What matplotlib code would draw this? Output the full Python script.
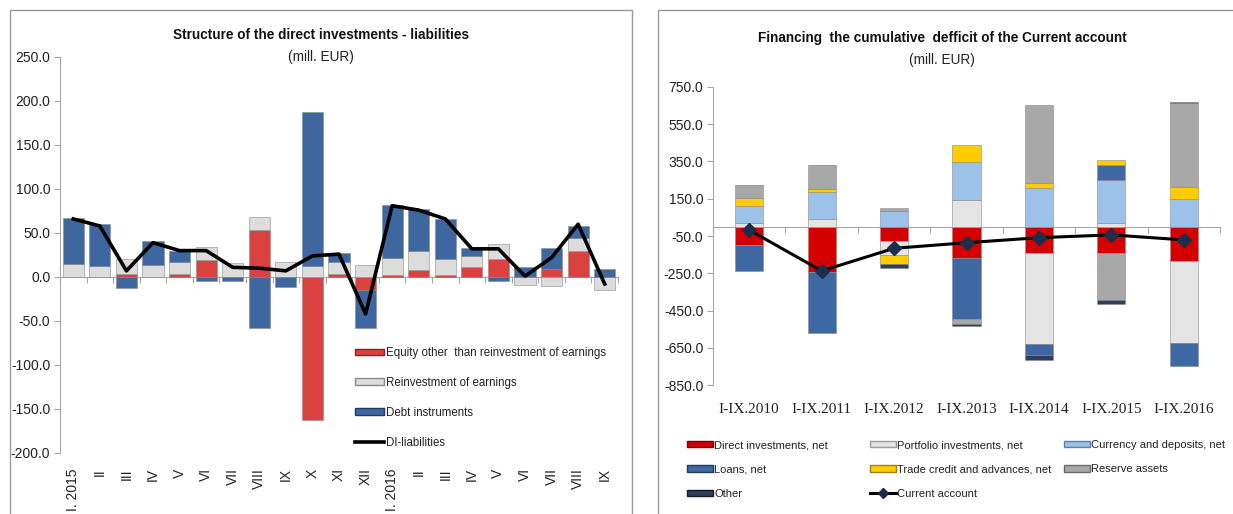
import numpy as np
import matplotlib
matplotlib.use('Agg')
import matplotlib.pyplot as plt
from matplotlib.patches import Rectangle, Patch
from matplotlib.lines import Line2D
from matplotlib.ticker import FormatStrFormatter

plt.rcParams['font.family'] = ['Liberation Sans', 'DejaVu Sans']

# ---- left chart: structure of direct investments - liabilities (mill. EUR)
months = ['I. 2015', 'II', 'III', 'IV', 'V', 'VI', 'VII', 'VIII', 'IX', 'X', 'XI', 'XII',
          'I. 2016', 'II', 'III', 'IV', 'V', 'VI', 'VII', 'VIII', 'IX']
equity = [0, 0, 3, 0, 3, 19, 0, 53, 0, -163, 3, -15, 2, 8, 2, 11, 20, 0, 9, 30, 0]
reinvest = [15, 12, 18, 14, 14, 15, 16, 15, 17, 12, 14, 14, 20, 22, 19, 13, 18, -9, -10, 14, -15]
debt = [52, 48, -13, 27, 13, -4, -4, -58, -11, 175, 10, -43, 60, 47, 45, 9, -5, 11, 24, 14, 9]
di_liab = [66, 58, 7, 39, 30, 30, 11, 10, 7, 24, 26, -42, 81, 76, 66, 32, 32, 1, 22, 60, -8]

# ---- right chart: financing the cumulative deficit of the current account (mill. EUR)
periods = ['I-IX.2010', 'I-IX.2011', 'I-IX.2012', 'I-IX.2013', 'I-IX.2014', 'I-IX.2015', 'I-IX.2016']
direct = [-100, -245, -75, -170, -143, -139, -184]
portfolio = [20, 40, -77, 143, -487, 21, -437]
currency = [92, 145, 86, 202, 206, 229, 148]
loans = [-140, -325, 0, -325, -57, 80, -125]
trade = [43, 15, -50, 93, 30, 27, 63]
reserve = [66, 130, 12, -25, 417, -255, 450]
other = [0, 0, -20, -12, -30, -23, 5]
current = [-18, -237, -116, -86, -59, -44, -71]

W, H = 1233, 514
GREY = '#A6A6A6'
TXT = '#222222'


def frac(x0, y0, x1, y1):
    """pixel box (top-left origin) -> figure fraction rect"""
    return [x0 / W, 1 - y1 / H, (x1 - x0) / W, (y1 - y0) / H]


def stack_bars(ax, x, series, colors, width):
    """excel-like stacked columns: positives and negatives stacked separately"""
    pos = np.zeros(len(x))
    neg = np.zeros(len(x))
    for vals, c in zip(series, colors):
        vals = np.asarray(vals, float)
        bottom = np.where(vals >= 0, pos, neg)
        ax.bar(x, vals, width, bottom=bottom, color=c, edgecolor='#8a8a8a',
               linewidth=0.4, zorder=2)
        pos += np.clip(vals, 0, None)
        neg += np.clip(vals, None, 0)


def zero_axis(ax, n, ymin, ymax):
    """category axis line crossing at zero with ticks between categories"""
    sec = ax.secondary_xaxis((0 - ymin) / (ymax - ymin))
    sec.set_alignment('bottom')
    sec.set_xticks(np.arange(n + 1) - 0.5)
    sec.tick_params(axis='x', length=4, color=GREY, labelbottom=False)
    sec.spines['bottom'].set_color(GREY)


def style_y(ax):
    for s in ['top', 'right', 'bottom']:
        ax.spines[s].set_visible(False)
    ax.spines['left'].set_color(GREY)
    ax.yaxis.set_major_formatter(FormatStrFormatter('%.1f'))
    ax.tick_params(axis='y', length=4, color=GREY, labelsize=10, labelcolor=TXT, pad=3)


fig = plt.figure(figsize=(W / 100, H / 100), dpi=100)

# panel borders
fig.add_artist(Rectangle((10 / W, -0.1), 622 / W, 1.1 - 10 / H, transform=fig.transFigure,
                         fill=False, edgecolor='#9a9a9a', lw=1))
fig.add_artist(Rectangle((658 / W, -0.1), 0.5, 1.1 - 10 / H, transform=fig.transFigure,
                         fill=False, edgecolor='#9a9a9a', lw=1))

# ---------------- left
ax1 = fig.add_axes(frac(60, 57, 618, 453))
x1 = np.arange(len(months))
c_eq, c_re, c_debt = '#D9423F', '#DCDCDC', '#3E67A0'
stack_bars(ax1, x1, [equity, reinvest, debt], [c_eq, c_re, c_debt], 0.8)
ax1.plot(x1, di_liab, color='black', lw=2.6, zorder=3)
ax1.set_xlim(-0.5, len(months) - 0.5)
ax1.set_ylim(-200, 250)
ax1.set_yticks(np.arange(-200, 251, 50))
style_y(ax1)
ax1.set_xticks(x1)
ax1.set_xticklabels(months, rotation=90, va='top', ha='center', fontsize=10, color=TXT)
ax1.tick_params(axis='x', length=0, pad=11)
zero_axis(ax1, len(months), -200, 250)

leg1 = [Patch(facecolor=c_eq, edgecolor='#8a2020', label='Equity other  than reinvestment of earnings'),
        Patch(facecolor=c_re, edgecolor='#8a8a8a', label='Reinvestment of earnings'),
        Patch(facecolor=c_debt, edgecolor='#203a60', label='Debt instruments'),
        Line2D([], [], color='black', lw=2.6, label='DI-liabilities')]
fig.legend(handles=leg1, loc='upper left', bbox_to_anchor=(355 / W, 1 - 347 / H), frameon=False,
           fontsize=8.3, handlelength=2.5, handleheight=0.5, handletextpad=0.15,
           labelspacing=1.55, labelcolor=TXT, borderpad=0, borderaxespad=0)

fig.text(321 / W, 1 - 35 / H, 'Structure of the direct investments - liabilities',
         ha='center', va='center', fontsize=9.8, weight='bold', color='#111111')
fig.text(321 / W, 1 - 57 / H, '(mill. EUR)', ha='center', va='center', fontsize=9.8, color=TXT)

# ---------------- right
ax2 = fig.add_axes(frac(713, 86.7, 1220, 385.3))
x2 = np.arange(len(periods))
cols2 = ['#D40000', '#E4E4E4', '#9CC2EA', '#3E68A2', '#FFCC00', '#A8A8A8', '#2E3F58']
stack_bars(ax2, x2, [direct, portfolio, currency, loans, trade, reserve, other], cols2, 0.39)
ax2.plot(x2, current, color='black', lw=2.2, zorder=3, marker='D', markersize=7,
         markerfacecolor='#1C2E4A', markeredgecolor='#1C2E4A')
ax2.set_xlim(-0.5, len(periods) - 0.5)
ax2.set_ylim(-850, 750)
ax2.set_yticks(np.arange(-850, 751, 200))
style_y(ax2)
ax2.set_xticks(x2)
ax2.set_xticklabels(periods, fontsize=11, color=TXT, family=['Liberation Serif', 'DejaVu Serif'])
ax2.tick_params(axis='x', length=0, pad=13)
zero_axis(ax2, len(periods), -850, 750)

names2 = ['Direct investments, net', 'Portfolio investments, net', 'Currency and deposits, net',
          'Loans, net', 'Trade credit and advances, net', 'Reserve assets', 'Other']
edges2 = ['#7a0000', '#9a9a9a', '#5a82b0', '#203a60', '#a08000', '#6a6a6a', '#101a28']
h2 = [Patch(facecolor=c, edgecolor=e, label=n) for c, e, n in zip(cols2, edges2, names2)]
h_ca = Line2D([], [], color='black', lw=2.2, marker='D', markersize=5,
              markerfacecolor='#1C2E4A', markeredgecolor='#1C2E4A', label='Current account')
# excel fills legend rows first: one single-column legend per legend column
leg_cols = [([h2[0], h2[3], h2[6]], 687), ([h2[1], h2[4], h_ca], 870), ([h2[2], h2[5]], 1064)]
for handles, xpos in leg_cols:
    fig.legend(handles=handles, loc='upper left', bbox_to_anchor=(xpos / W, 1 - 440 / H),
               frameon=False, fontsize=8, handlelength=2.3, handleheight=0.5,
               handletextpad=0.15, labelspacing=1.3, labelcolor=TXT,
               borderpad=0, borderaxespad=0)

fig.text(942 / W, 1 - 38 / H, 'Financing  the cumulative  defficit of the Current account',
         ha='center', va='center', fontsize=9.8, weight='bold', color='#111111')
fig.text(942 / W, 1 - 60 / H, '(mill. EUR)', ha='center', va='center', fontsize=9.8, color=TXT)

fig.savefig('out.png', dpi=100)
